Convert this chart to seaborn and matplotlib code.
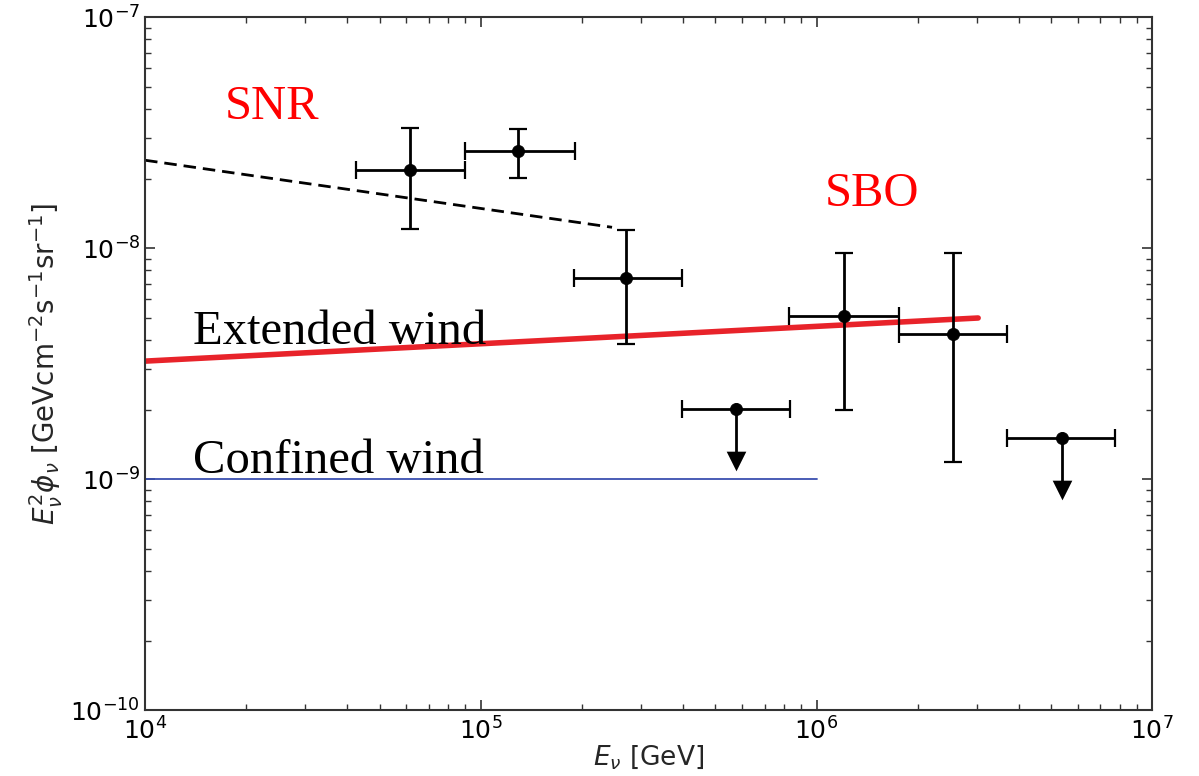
import numpy as np
import pandas as pd
import matplotlib
matplotlib.use("Agg")
import matplotlib.pyplot as plt
import seaborn as sns

# Measured flux points (GeV, GeV cm^-2 s^-1 sr^-1)
energy = [6.15e4, 1.29e5, 2.71e5, 1.21e6, 2.55e6]
energy_lo = [4.26e4, 8.97e4, 1.90e5, 8.3e5, 1.76e6]
energy_hi = [8.97e4, 1.91e5, 3.98e5, 1.76e6, 3.70e6]
flux = [2.18e-8, 2.63e-8, 7.41e-9, 5.08e-9, 4.25e-9]
flux_lo = [1.21e-8, 2.01e-8, 3.84e-9, 1.99e-9, 1.19e-9]
flux_hi = [3.31e-8, 3.27e-8, 1.20e-8, 9.5e-9, 9.5e-9]

# Upper limits
ul_energy = [5.76e5, 5.40e6]
ul_energy_lo = [3.98e5, 3.70e6]
ul_energy_hi = [8.34e5, 7.74e6]
ul_flux = [2.01e-9, 1.50e-9]

# Model curves
snr_e = [1e4, 2.46e5]
snr_f = [2.40e-8, 1.23e-8]
ext_e = [1e4, 3.03e6]
ext_f = [3.24e-9, 4.98e-9]
conf_e = [1e4, 1e6]
conf_f = [1e-9, 1e-9]

sns.set_style("ticks")
plt.rcParams["font.family"] = ["DejaVu Sans"]
plt.rcParams["mathtext.fontset"] = "dejavusans"

fig = plt.figure(figsize=(11.99, 7.76), dpi=100)
ax = fig.add_axes([0.121, 0.085, 0.840, 0.893])

sns.lineplot(x=snr_e, y=snr_f, ax=ax, color="black", lw=2, linestyle=(0, (4.5, 2.5)))
sns.lineplot(x=ext_e, y=ext_f, ax=ax, color="#e8232a", lw=4)
sns.lineplot(x=conf_e, y=conf_f, ax=ax, color="#3a4fb0", lw=1.3)

e = np.array(energy)
f = np.array(flux)
ax.errorbar(e, f,
            xerr=[e - np.array(energy_lo), np.array(energy_hi) - e],
            yerr=[f - np.array(flux_lo), np.array(flux_hi) - f],
            fmt="none", ecolor="black", elinewidth=2, capsize=6.5, capthick=1.6)
sns.scatterplot(x=energy, y=flux, ax=ax, color="black", s=75, edgecolor="black", zorder=5)

# Upper limits: horizontal bin, downward stem and arrow head
ue = np.array(ul_energy)
uf = np.array(ul_flux)
ax.errorbar(ue, uf,
            xerr=[ue - np.array(ul_energy_lo), np.array(ul_energy_hi) - ue],
            fmt="none", ecolor="black", elinewidth=2, capsize=6.5, capthick=1.6)
ax.errorbar(ue, uf, yerr=[uf * (1 - 0.64), np.zeros_like(uf)], fmt="none",
            ecolor="black", elinewidth=2, capsize=0)
sns.scatterplot(x=ue, y=uf * 0.595, ax=ax, color="black", marker="v", s=200,
                edgecolor="black", linewidth=0, zorder=5)
sns.scatterplot(x=ul_energy, y=ul_flux, ax=ax, color="black", s=75, edgecolor="black", zorder=5)

ax.set_xscale("log")
ax.set_yscale("log")
ax.set_xlim(1e4, 1e7)
ax.set_ylim(1e-10, 1e-7)

for sp in ax.spines.values():
    sp.set_color("#333333")
    sp.set_linewidth(1.5)
ax.tick_params(which="both", direction="in", top=True, right=True, colors="#333333",
               labelcolor="black", labelsize=18)
ax.tick_params(which="major", length=7, width=1.2)
ax.tick_params(which="minor", length=4, width=1)
ax.tick_params(axis="x", pad=5)

ax.set_xlabel(r"$E_\nu$ [GeV]", fontsize=19, labelpad=-1)
ax.set_ylabel(r"$E_\nu^2\phi_\nu$ [GeVcm$^{-2}$s$^{-1}$sr$^{-1}$]", fontsize=20, labelpad=4)

serif = ["Liberation Serif", "DejaVu Serif"]
ax.text(1.73e4, 4.1e-8, "SNR", color="red", fontsize=35, family=serif, va="center")
ax.text(1.06e6, 1.72e-8, "SBO", color="red", fontsize=35, family=serif, va="center")
ax.text(1.39e4, 4.35e-9, "Extended wind", color="black", fontsize=35, family=serif, va="center")
ax.text(1.39e4, 1.2e-9, "Confined wind", color="black", fontsize=35, family=serif, va="center")

fig.savefig("out.png", dpi=100)
